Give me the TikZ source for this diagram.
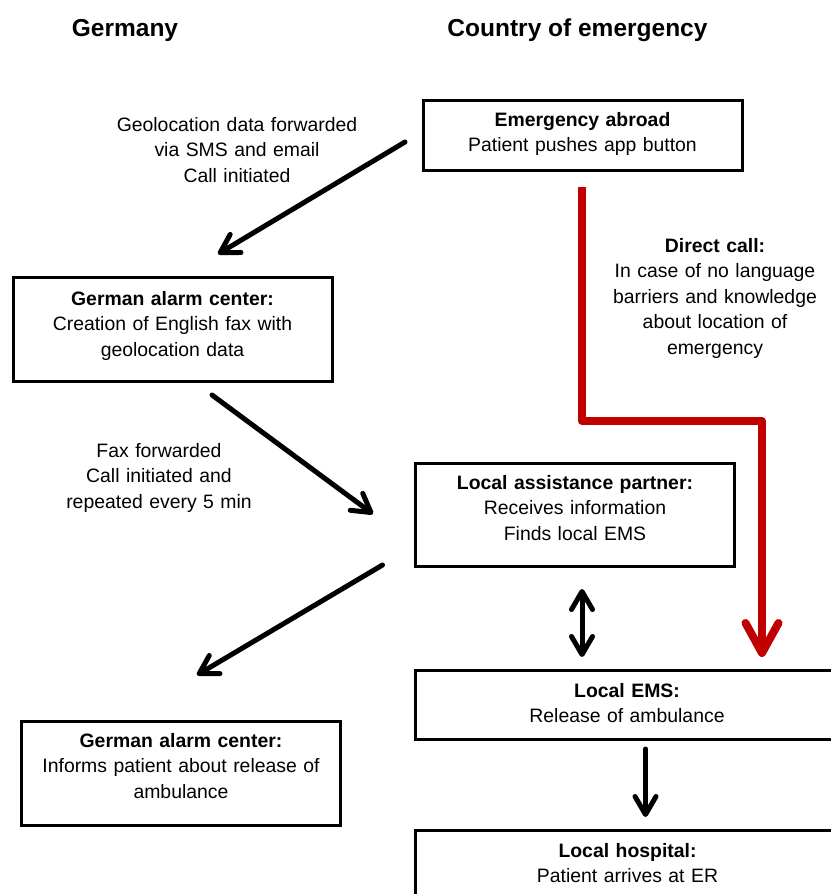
\documentclass[tikz,border=0pt]{standalone}
\usepackage{fontspec}
\setmainfont{Liberation Sans}
\usetikzlibrary{arrows.meta}
\definecolor{callred}{RGB}{192,0,0}
\newcommand{\bodysize}{\fontsize{19.4pt}{25.6pt}\selectfont}
\newcommand{\headsize}{\fontsize{24.5pt}{29pt}\selectfont\bfseries}
\tikzset{
  tipB/.tip={Straight Barb[length=18pt,width=21pt,round]},
  tipR/.tip={Straight Barb[length=30pt,width=33pt,round]},
}
\begin{document}
\begin{tikzpicture}[x=1pt,y=-1pt,
  stepbox/.style={draw, line width=3pt, inner sep=0pt},
  boxtext/.style={anchor=base, align=center, text width=340pt, inner sep=0pt, font=\bodysize},
  head/.style={anchor=base, inner sep=0pt, font=\headsize},
  flow/.style={line width=5pt, line cap=round, -tipB},
  twoway/.style={line width=5pt, line cap=round, tipB-tipB},
  directcall/.style={draw=callred, line width=8pt, line join=round, -tipR},
]
\useasboundingbox (0,0) rectangle (830,894);

% column headings
\node[head] (hgermany) at (125,36) {Germany};
\node[head] (hcountry) at (577.5,36) {Country of emergency};

% boxes
\node[stepbox, minimum width=319pt, minimum height=70pt]  (abroad) at (582.5,135) {};
\node[stepbox, minimum width=319pt, minimum height=104pt] (gac1)   at (172.5,329) {};
\node[stepbox, minimum width=319pt, minimum height=103pt] (lap)    at (574.5,514.5) {};
\node[stepbox, minimum width=424pt, minimum height=69pt]  (ems)    at (627,704.5) {};
\node[stepbox, minimum width=319pt, minimum height=104pt] (gac2)   at (180.5,773) {};
\node[stepbox, minimum width=424pt, minimum height=70pt]  (hosp)   at (627,865) {};

% box texts
\node[boxtext] (abroadtxt) at (582.5,126) {\textbf{Emergency abroad}\\Patient pushes app button};
\node[boxtext] (gac1txt) at (172.5,305) {\textbf{German alarm center:}\\Creation of English fax with\\geolocation data};
\node[boxtext] (laptxt) at (575,489) {\textbf{Local assistance partner:}\\Receives information\\Finds local EMS};
\node[boxtext] (emstxt) at (627,697) {\textbf{Local EMS:}\\Release of ambulance};
\node[boxtext] (gac2txt) at (181,747) {\textbf{German alarm center:}\\Informs patient about release of\\ambulance};
\node[boxtext] (hosptxt) at (627.5,857) {\textbf{Local hospital:}\\Patient arrives at ER};

% connector labels
\node[boxtext] (smslbl) at (237,131) {Geolocation data forwarded\\via SMS and email\\Call initiated};
\node[boxtext] (faxlbl) at (159,457) {Fax forwarded\\Call initiated and\\repeated every 5 min};
\node[boxtext] (calllbl) at (715,252) {\textbf{Direct call:}\\In case of no language\\barriers and knowledge\\about location of\\emergency};

% connector end points
\coordinate (a1s) at (405,142);   \coordinate (a1e) at (218,254);
\coordinate (a2s) at (212,395);   \coordinate (a2e) at (373,514);
\coordinate (a3s) at (382.5,565); \coordinate (a3e) at (197,675);
\coordinate (a4s) at (582,589);   \coordinate (a4e) at (582,657);
\coordinate (a5s) at (645.5,749); \coordinate (a5e) at (645.5,817);
\coordinate (r0) at (582,187);
\coordinate (r1) at (582,421);
\coordinate (r2) at (762,421);
\coordinate (r3) at (762,657);

% connectors
\draw[flow] (a1s) -- (a1e);
\draw[flow] (a2s) -- (a2e);
\draw[flow] (a3s) -- (a3e);
\draw[twoway] (a4s) -- (a4e);
\draw[flow] (a5s) -- (a5e);
\draw[directcall] (r0) -- (r1) -- (r2) -- (r3);
\end{tikzpicture}
\end{document}
